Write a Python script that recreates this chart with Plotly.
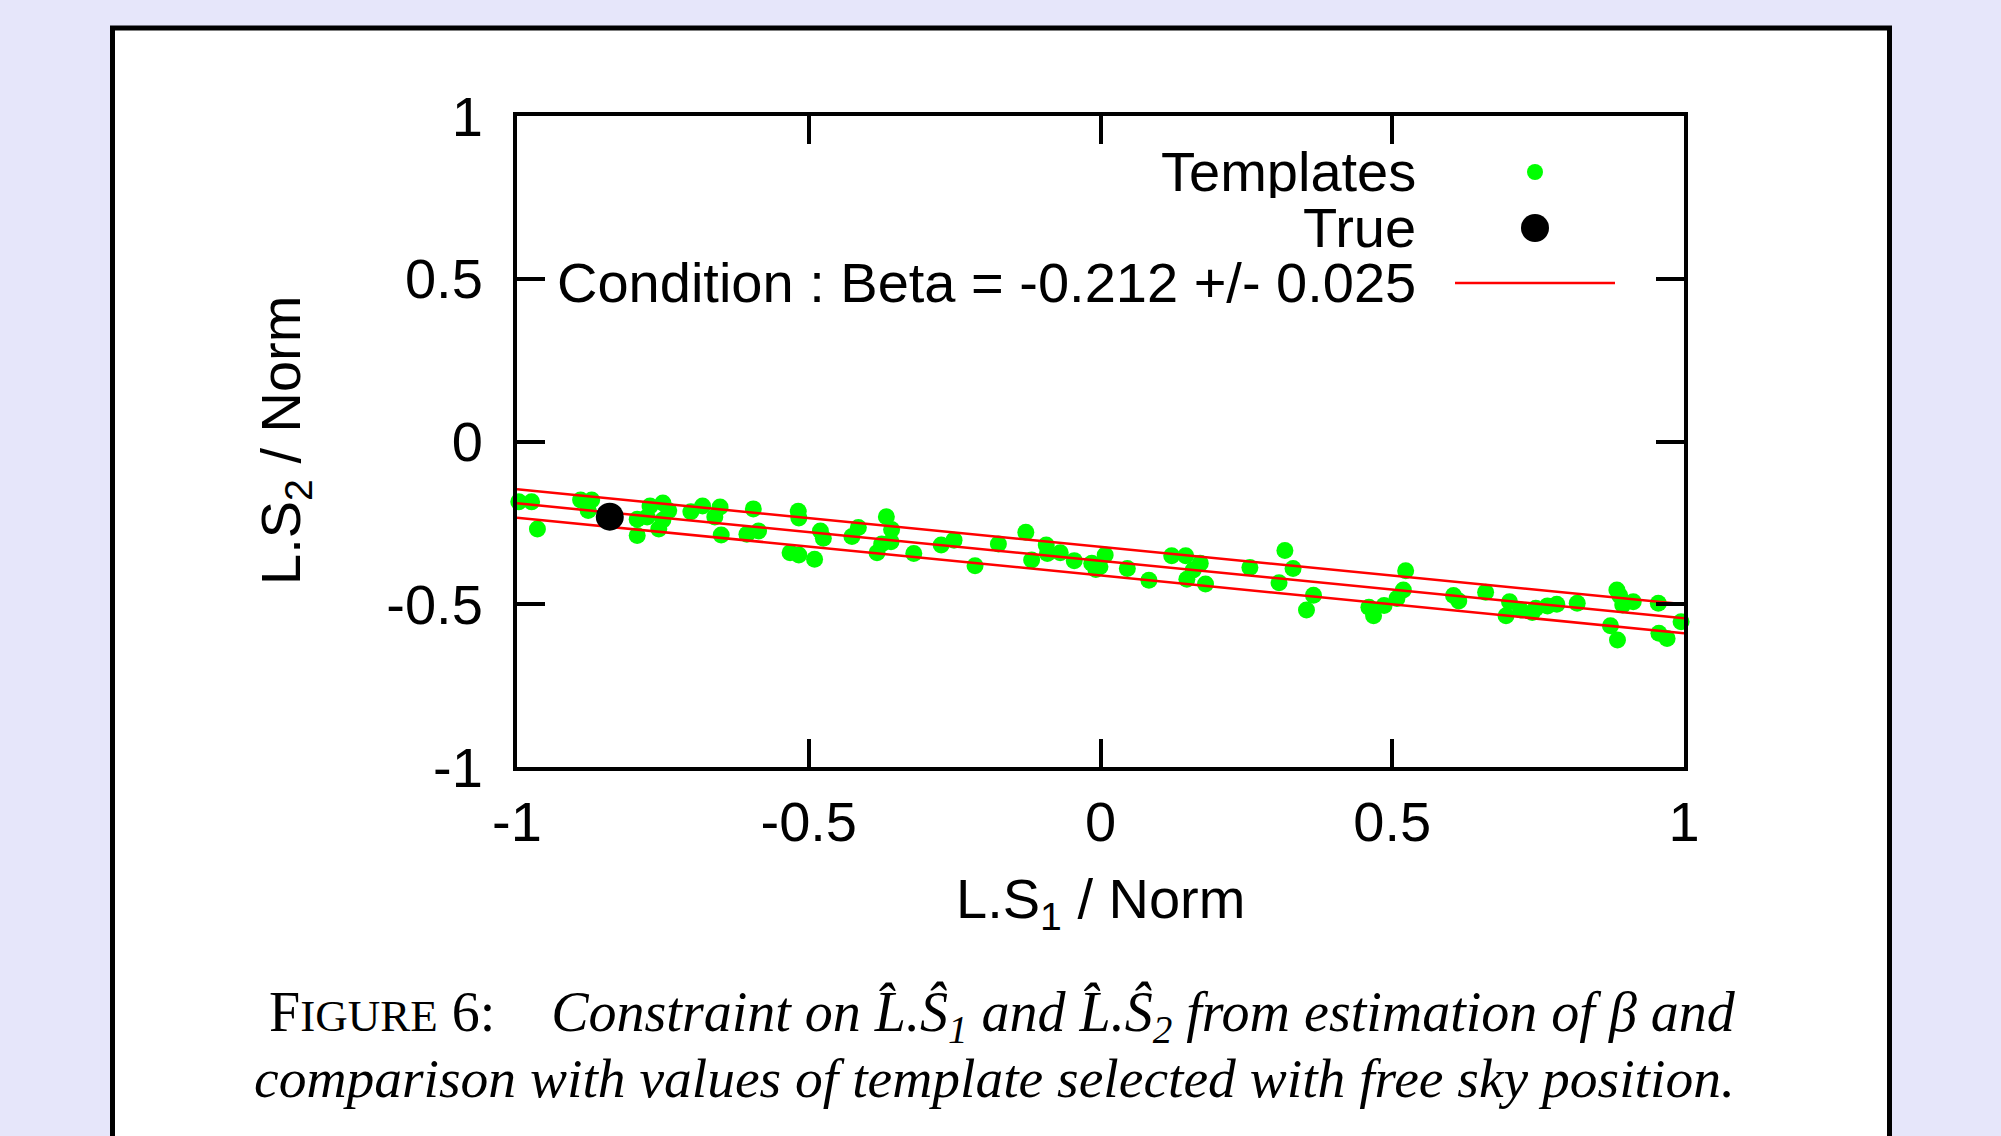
import plotly.graph_objects as go

# ---------------- data ----------------
tmpl_x = [-0.997, -0.975, -0.965, -0.891, -0.872, -0.878, -0.794, -0.794,
          -0.772, -0.750, -0.740, -0.777, -0.750, -0.757,
          -0.702, -0.682, -0.652, -0.661, -0.650,
          -0.595, -0.606, -0.586, -0.518, -0.517, -0.532, -0.517, -0.490,
          -0.480, -0.475, -0.426, -0.415, -0.367, -0.358, -0.375, -0.359,
          -0.383, -0.320, -0.273, -0.251, -0.215, -0.175, -0.128, -0.118,
          -0.093, -0.091, -0.069, -0.045, -0.015, -0.008, -0.001, 0.008,
          0.046, 0.083, 0.122, 0.146, 0.171, 0.159, 0.148, 0.180,
          0.256, 0.316, 0.330, 0.306, 0.365, 0.353, 0.460, 0.468, 0.486,
          0.508, 0.519, 0.523, 0.605, 0.614, 0.660, 0.701, 0.695, 0.720,
          0.740, 0.746, 0.766, 0.782, 0.817, 0.885, 0.890, 0.895, 0.913,
          0.874, 0.886, 0.956, 0.957, 0.971, 0.995]
tmpl_y = [-0.185, -0.185, -0.269, -0.180, -0.180, -0.212, -0.239, -0.289,
          -0.198, -0.189, -0.213, -0.232, -0.241, -0.269,
          -0.216, -0.198, -0.201, -0.232, -0.287,
          -0.207, -0.285, -0.275, -0.214, -0.235, -0.342, -0.349, -0.362,
          -0.275, -0.297, -0.292, -0.264, -0.231, -0.270, -0.315, -0.308,
          -0.342, -0.344, -0.318, -0.303, -0.382, -0.315, -0.279, -0.364,
          -0.318, -0.344, -0.342, -0.366, -0.374, -0.393, -0.385, -0.349,
          -0.390, -0.426, -0.351, -0.351, -0.374, -0.395, -0.423, -0.438,
          -0.387, -0.335, -0.390, -0.434, -0.472, -0.518, -0.509, -0.535, -0.504,
          -0.482, -0.456, -0.397, -0.473, -0.490, -0.463, -0.492, -0.535, -0.518,
          -0.525, -0.512, -0.505, -0.500, -0.497, -0.456, -0.474, -0.502, -0.492,
          -0.566, -0.610, -0.497, -0.589, -0.605, -0.554]

true_x = [-0.841]
true_y = [-0.231]

cond_x = [-1.0, 1.0]
cond_upper = [-0.147, -0.500]
cond_center = [-0.190, -0.543]
cond_lower = [-0.234, -0.589]

tick_vals = [-1, -0.5, 0, 0.5, 1]
tick_text = ["-1", "-0.5", "0", "0.5", "1"]

legend_labels = ["Templates", "True", "Condition : Beta = -0.212 +/- 0.025"]

x_title = "L.S<sub>1</sub> / Norm"
y_title = "L.S<sub>2</sub> / Norm"
caption_1 = ('F<span style="font-size:45px">IGURE</span> 6:\u00a0\u00a0\u00a0\u00a0'
             '<i>Constraint on L\u0302.S\u0302<sub>1</sub> and L\u0302.S\u0302<sub>2</sub> '
             'from estimation of \u03b2 and</i>')
caption_2 = '<i>comparison with values of template selected with free sky position.</i>'

# ---------------- layout geometry (pixels) ----------------
W, H = 2001, 1136
L, R, T, B = 517, 1684, 116, 767


def px(xp):
    return (xp - L) / (R - L)


def py(yp):
    return (B - yp) / (B - T)


SANS = "Liberation Sans, Arial, Helvetica, sans-serif"
SERIF = "Liberation Serif, Times New Roman, serif"
GREEN = "#00ff00"
FS = 56

fig = go.Figure()
fig.add_trace(go.Scatter(x=tmpl_x, y=tmpl_y, mode="markers",
                         marker=dict(color=GREEN, size=17, line=dict(width=0)),
                         cliponaxis=False, showlegend=False, name=legend_labels[0]))
for yy in (cond_upper, cond_center, cond_lower):
    fig.add_trace(go.Scatter(x=cond_x, y=yy, mode="lines",
                             line=dict(color="#ff0000", width=2.5),
                             showlegend=False, name=legend_labels[2]))
fig.add_trace(go.Scatter(x=true_x, y=true_y, mode="markers",
                         marker=dict(color="black", size=28, line=dict(width=0)),
                         cliponaxis=False, showlegend=False, name=legend_labels[1]))

axis_common = dict(range=[-1, 1], tickvals=tick_vals, ticktext=tick_text,
                   showgrid=False, zeroline=False, showline=True, linecolor="black",
                   linewidth=4, mirror="ticks", ticks="inside", ticklen=28,
                   tickwidth=4, tickcolor="black",
                   tickfont=dict(family=SANS, size=FS, color="black"))

fig.update_layout(
    width=W, height=H,
    margin=dict(l=L, r=W - R, t=T, b=H - B, pad=0),
    paper_bgcolor="#e6e6fa", plot_bgcolor="white",
    xaxis=dict(**axis_common, ticklabelstandoff=3),
    yaxis=dict(**axis_common, ticklabelstandoff=19),
    showlegend=False,
)

shapes = [
    dict(type="rect", xref="paper", yref="paper", layer="below",
         x0=px(112.5), x1=px(1889.5), y0=py(1300), y1=py(28),
         fillcolor="white", line=dict(color="black", width=5)),
    dict(type="circle", xref="paper", yref="paper", xsizemode="pixel", ysizemode="pixel",
         xanchor=px(1535), yanchor=py(172), x0=-8, x1=8, y0=-8, y1=8,
         fillcolor=GREEN, line=dict(width=0)),
    dict(type="circle", xref="paper", yref="paper", xsizemode="pixel", ysizemode="pixel",
         xanchor=px(1535), yanchor=py(228), x0=-14, x1=14, y0=-14, y1=14,
         fillcolor="black", line=dict(width=0)),
    dict(type="line", xref="paper", yref="paper",
         x0=px(1455), x1=px(1615), y0=py(283), y1=py(283),
         line=dict(color="#ff0000", width=2.5)),
]

ann = []
for lab, yp in zip(legend_labels, [171, 227, 282]):
    ann.append(dict(text=lab, xref="paper", yref="paper", x=px(1418), y=py(yp),
                    xanchor="right", yanchor="middle", showarrow=False, height=54,
                    font=dict(family=SANS, size=FS, color="black")))
ann.append(dict(text=x_title, xref="paper", yref="paper", x=px(1100), y=py(903),
                xanchor="center", yanchor="middle", showarrow=False,
                font=dict(family=SANS, size=FS, color="black")))
ann.append(dict(text=y_title, xref="paper", yref="paper", x=px(284), y=py(441),
                xanchor="center", yanchor="middle", showarrow=False, textangle=-90,
                font=dict(family=SANS, size=FS, color="black")))
ann.append(dict(text=caption_1, xref="paper", yref="paper", x=px(1002), y=py(1016),
                xanchor="center", yanchor="middle", showarrow=False,
                font=dict(family=SERIF, size=56, color="black")))
ann.append(dict(text=caption_2, xref="paper", yref="paper", x=px(994), y=py(1078),
                xanchor="center", yanchor="middle", showarrow=False,
                font=dict(family=SERIF, size=55.5, color="black")))

fig.update_layout(shapes=shapes, annotations=ann)
fig.write_html("out.html")
